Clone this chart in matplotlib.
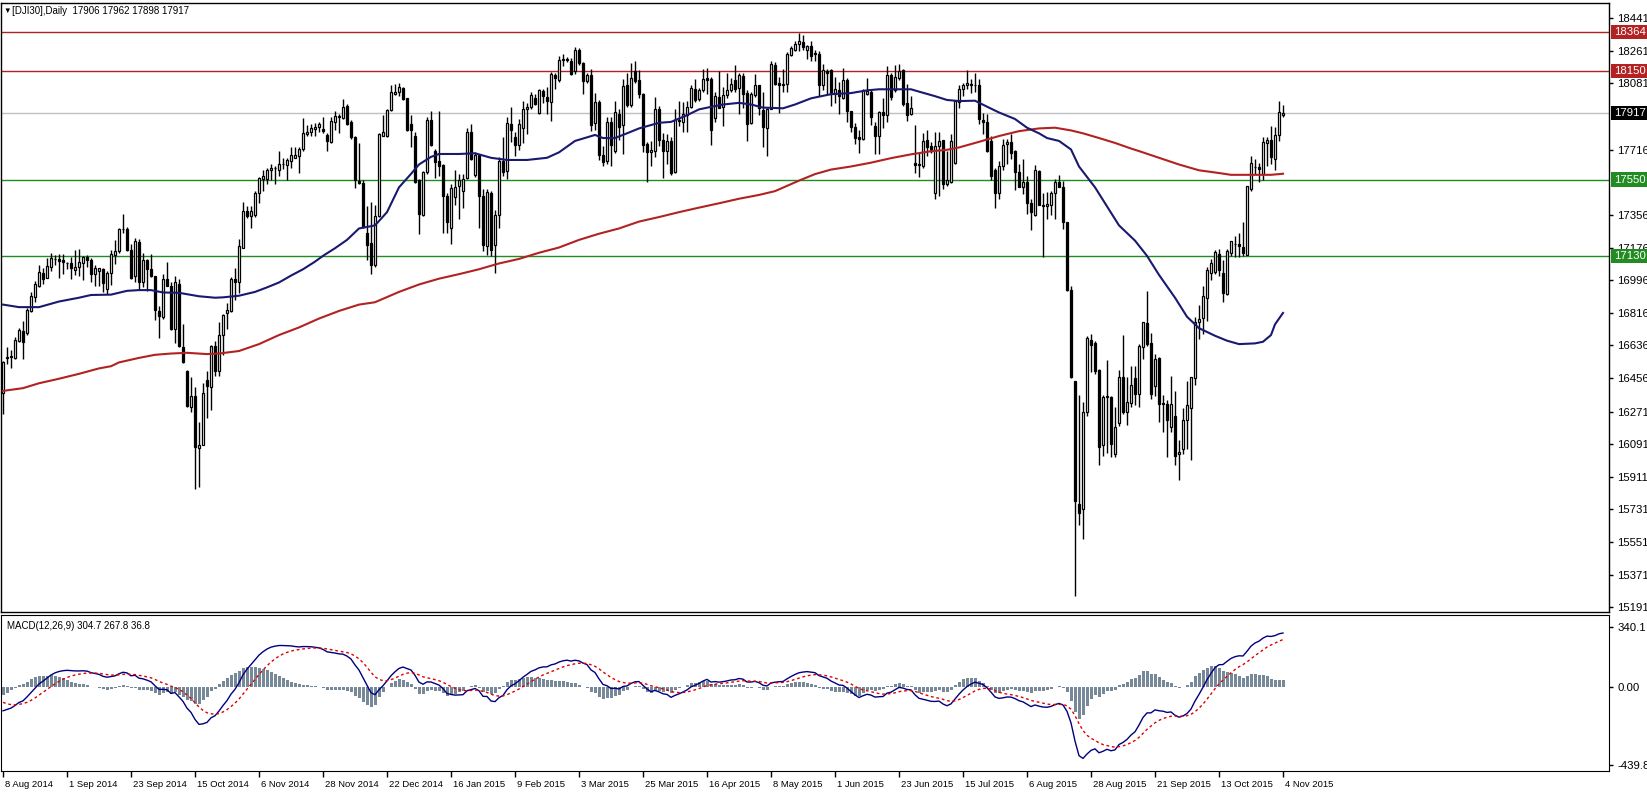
import numpy as np
import matplotlib
matplotlib.use("Agg")
from matplotlib import pyplot as plt
import matplotlib.transforms as mtransforms

plt.rcParams['font.family'] = ['Liberation Sans', 'DejaVu Sans']

# ==== daily bars (bar 0 = 8 Aug 2014, bar 320 = 4 Nov 2015)
opens = [
    16374, 16568, 16572, 16568, 16662, 16715, 16706, 16826, 16905, 16966,
    17034, 17010, 17067, 17115, 17110, 17105, 17088, 17088, 17052, 17071,
    17092, 17126, 17105, 17029, 17046, 17059, 16949, 17035, 17134, 17159,
    17277, 17279, 17161, 17021, 17208, 16983, 17109, 17056, 17017, 16825,
    16794, 17000, 16962, 16727, 16977, 16626, 16496, 16295, 16358, 16070,
    16087, 16446, 16406, 16633, 16496, 16693, 16815, 16826, 17000, 16983,
    17176, 17375, 17350, 17357, 17476, 17554, 17554, 17604, 17615, 17606,
    17636, 17630, 17651, 17672, 17680, 17717, 17801, 17816, 17831, 17839,
    17831, 17795, 17759, 17871, 17894, 17890, 17959, 17869, 17785, 17545,
    17533, 17256, 17203, 17077, 17350, 17793, 17791, 17932, 18022, 18032,
    18057, 17999, 17860, 17791, 17550, 17357, 17592, 17881, 17711, 17655,
    17629, 17461, 17281, 17455, 17518, 17487, 17560, 17812, 17575, 17686,
    17461, 17182, 17476, 17189, 17355, 17655, 17596, 17860, 17787, 17743,
    17833, 17938, 17952, 18000, 17917, 18041, 18007, 17980, 18127, 18100,
    18213, 18217, 18207, 18148, 18267, 18194, 18095, 18127, 17864, 17980,
    17684, 17655, 17869, 17707, 17911, 17854, 18074, 17965, 18148, 18099,
    18022, 17749, 17705, 17711, 17938, 17770, 17707, 17764, 17592, 17879,
    17869, 17906, 17952, 18053, 17994, 18043, 18112, 18106, 17890, 18007,
    17952, 18015, 18047, 18102, 18057, 18123, 18026, 17864, 18015, 18070,
    17932, 17837, 17938, 18183, 18085, 18080, 18078, 18238, 18267, 18301,
    18309, 18267, 18288, 18248, 18242, 18074, 18148, 18158, 18022, 18043,
    18001, 18099, 17927, 17843, 17785, 17776, 18022, 18036, 17848, 17791,
    17921, 17906, 18127, 18043, 18112, 18158, 17973, 17913, 17644, 17630,
    17623, 17770, 17738, 17476, 17738, 17770, 17529, 17539, 17644, 17980,
    18049, 18070, 18078, 18072, 18070, 17881, 17869, 17764, 17602, 17476,
    17627, 17749, 17759, 17707, 17592, 17508, 17539, 17424, 17357, 17596,
    17413, 17403, 17413, 17476, 17539, 17512, 17319, 16942, 16437, 15762,
    15734, 16270, 16664, 16651, 16500, 16085, 16349, 16353, 16039, 16207,
    16462, 16270, 16316, 16454, 16370, 16626, 16758, 16651, 16412, 16567,
    16316, 16311, 16185, 16248, 16038, 16064, 16223, 16290, 16458, 16763,
    16785, 16899, 17036, 17042, 17140, 17036, 16920, 17147, 17195, 17197,
    17180, 17136, 17497, 17619, 17619, 17581, 17755, 17770, 17665, 17797,
    17906,
]
highs = [
    16550, 16626, 16610, 16680, 16733, 16773, 16840, 16931, 16993, 17077,
    17063, 17120, 17147, 17136, 17140, 17142, 17098, 17126, 17161, 17166,
    17130, 17134, 17120, 17077, 17063, 17063, 17046, 17163, 17218, 17281,
    17361, 17287, 17193, 17229, 17225, 17147, 17110, 17140, 17020, 16853,
    17029, 17098, 16987, 17021, 17004, 16756, 16500, 16462, 16406, 16211,
    16427, 16496, 16637, 16658, 16763, 16811, 16868, 17014, 17063, 17224,
    17428, 17407, 17407, 17487, 17566, 17602, 17617, 17634, 17623, 17707,
    17672, 17672, 17733, 17728, 17728, 17890, 17854, 17860, 17864, 17869,
    17894, 17806, 17896, 17927, 17911, 17994, 17969, 17881, 17791, 17755,
    17550, 17403, 17428, 17413, 17806, 17906, 17938, 18070, 18078, 18083,
    18062, 18001, 17906, 17812, 17552, 17596, 17896, 17927, 17722, 17927,
    17638, 17476, 17529, 17602, 17581, 17581, 17833, 17860, 17701, 17692,
    17497, 17497, 17487, 17382, 17676, 17785, 17896, 17952, 17812, 17885,
    17986, 17973, 18036, 18022, 18053, 18049, 18064, 18146, 18141, 18232,
    18242, 18225, 18221, 18284, 18274, 18200, 18137, 18162, 18028, 17990,
    17738, 17896, 17896, 17986, 17938, 18106, 18137, 18196, 18204, 18158,
    18028, 17759, 17764, 18007, 17959, 17806, 17801, 17785, 17938, 17986,
    17980, 17986, 18074, 18106, 18057, 18162, 18169, 18116, 18032, 18148,
    18064, 18137, 18112, 18183, 18137, 18137, 18043, 18032, 18133, 18070,
    18032, 17948, 18206, 18200, 18116, 18162, 18253, 18288, 18316, 18357,
    18347, 18295, 18315, 18263, 18259, 18190, 18162, 18162, 18116, 18091,
    18169, 18112, 17931, 17864, 17822, 18049, 18112, 18053, 17869, 17927,
    18001, 18179, 18137, 18183, 18190, 18162, 18078, 18011, 17850, 17696,
    17806, 17822, 17759, 17812, 17816, 17770, 17707, 17801, 17986, 18074,
    18085, 18158, 18106, 18137, 18106, 17917, 17910, 17791, 17613, 17655,
    17776, 17776, 17801, 17713, 17634, 17665, 17571, 17445, 17630, 17602,
    17476, 17482, 17487, 17554, 17575, 17545, 17319, 16966, 16437, 16364,
    16322, 16689, 16700, 16658, 16504, 16364, 16553, 16357, 16295, 16500,
    16693, 16462, 16525, 16525, 16643, 16763, 16937, 16706, 16588, 16574,
    16364, 16337, 16469, 16385, 16112, 16290, 16442, 16462, 16790, 16861,
    16962, 17071, 17113, 17161, 17168, 17109, 17168, 17214, 17239, 17256,
    17319, 17518, 17680, 17665, 17644, 17785, 17785, 17848, 17843, 17984,
    17962,
]
lows = [
    16260, 16532, 16511, 16560, 16655, 16563, 16693, 16819, 16874, 16958,
    16977, 17006, 17046, 17082, 17010, 17030, 17056, 17000, 17025, 17021,
    16998, 17071, 16983, 16966, 16966, 16930, 16920, 16968, 17084, 17147,
    17256, 17155, 17005, 16983, 16941, 16956, 16935, 17012, 16777, 16679,
    16784, 16962, 16721, 16647, 16626, 16540, 16295, 16270, 15846, 15854,
    16085, 16238, 16280, 16469, 16469, 16584, 16727, 16819, 16889, 16924,
    17172, 17340, 17281, 17344, 17420, 17487, 17529, 17550, 17525, 17571,
    17609, 17550, 17617, 17670, 17587, 17707, 17791, 17791, 17791, 17812,
    17806, 17707, 17755, 17822, 17806, 17885, 17854, 17776, 17503, 17527,
    17281, 17109, 17029, 17071, 17344, 17791, 17785, 17927, 18015, 18011,
    17990, 17818, 17728, 17533, 17250, 17350, 17581, 17738, 17560, 17571,
    17256, 17256, 17193, 17413, 17336, 17392, 17554, 17659, 17567, 17281,
    17155, 17134, 17130, 17035, 17281, 17571, 17554, 17759, 17680, 17713,
    17755, 17801, 17938, 17965, 17915, 17973, 17915, 17873, 18053, 18091,
    18179, 18200, 18127, 18133, 18183, 18022, 18085, 17818, 17822, 17659,
    17623, 17638, 17623, 17696, 17770, 17692, 17952, 17952, 18085, 18001,
    17701, 17539, 17623, 17676, 17738, 17560, 17638, 17575, 17587, 17848,
    17812, 17812, 17944, 17980, 17986, 18032, 18022, 17743, 17869, 17944,
    17848, 18001, 18032, 18032, 17911, 17944, 17764, 17860, 18007, 17906,
    17728, 17682, 17938, 18070, 17917, 18032, 18032, 18232, 18259, 18259,
    18267, 18217, 18204, 18204, 18011, 18043, 18022, 17959, 17973, 17911,
    17994, 17869, 17812, 17749, 17696, 17770, 18015, 17854, 17692, 17692,
    17837, 17869, 17990, 18036, 18099, 17959, 17875, 17906, 17587, 17567,
    17613, 17680, 17696, 17441, 17462, 17497, 17518, 17533, 17638, 17948,
    18011, 18053, 18028, 18032, 17860, 17801, 17701, 17550, 17392, 17445,
    17602, 17634, 17665, 17491, 17508, 17470, 17361, 17273, 17350, 17409,
    17126, 17336, 17357, 17336, 17508, 17277, 16937, 16454, 15252, 15644,
    15567, 16249, 16490, 16479, 15976, 16028, 16043, 16022, 16022, 16190,
    16259, 16196, 16295, 16307, 16295, 16563, 16630, 16341, 16358, 16211,
    16160, 16022, 16160, 15976, 15892, 16039, 16064, 16001, 16420, 16672,
    16700, 16773, 16994, 17029, 17021, 16878, 16916, 17130, 17126, 17126,
    17130, 17134, 17487, 17581, 17539, 17550, 17623, 17638, 17602, 17764,
    17898,
]
closes = [
    16546, 16572, 16575, 16664, 16721, 16656, 16832, 16910, 16977, 17040,
    17000, 17073, 17119, 17113, 17103, 17094, 17092, 17063, 17071, 17098,
    17126, 17105, 17029, 17063, 17061, 16979, 17035, 17142, 17159, 17279,
    17279, 17161, 17008, 17212, 16983, 17109, 17056, 17021, 16832, 16798,
    17004, 16966, 16727, 16987, 16630, 16542, 16301, 16358, 16076, 16087,
    16374, 16412, 16633, 16496, 16693, 16803, 16830, 17004, 16983, 17182,
    17375, 17350, 17375, 17476, 17562, 17571, 17602, 17617, 17613, 17638,
    17634, 17659, 17686, 17684, 17722, 17806, 17816, 17837, 17843, 17858,
    17820, 17764, 17875, 17902, 17902, 17952, 17860, 17785, 17550, 17533,
    17287, 17189, 17077, 17350, 17801, 17812, 17932, 18032, 18036, 18064,
    17995, 17822, 17822, 17539, 17361, 17592, 17881, 17743, 17650, 17623,
    17461, 17315, 17503, 17512, 17550, 17554, 17812, 17665, 17686, 17461,
    17189, 17482, 17161, 17355, 17655, 17592, 17864, 17822, 17743, 17860,
    17938, 17952, 18020, 17969, 18047, 18011, 17986, 18133, 18110, 18211,
    18215, 18209, 18133, 18263, 18194, 18095, 18127, 17854, 17980, 17684,
    17648, 17869, 17743, 17921, 17843, 18068, 17965, 18112, 18095, 18022,
    17743, 17701, 17713, 17938, 17770, 17711, 17764, 17587, 17881, 17875,
    17911, 17952, 18057, 17990, 18047, 18106, 18102, 17822, 18011, 17948,
    18018, 18047, 18078, 18049, 18127, 18022, 17860, 18022, 18074, 17948,
    17843, 17938, 18190, 18078, 18074, 18074, 18246, 18274, 18299, 18316,
    18280, 18288, 18232, 18242, 18074, 18154, 18137, 18022, 18049, 18011,
    18099, 17927, 17843, 17780, 17776, 18043, 18039, 17896, 17791, 17921,
    17906, 18127, 18007, 18116, 18148, 17969, 17906, 17948, 17630, 17638,
    17764, 17728, 17707, 17738, 17764, 17525, 17546, 17764, 17986, 18053,
    18074, 18085, 18070, 18070, 17885, 17869, 17707, 17571, 17476, 17627,
    17743, 17759, 17696, 17592, 17512, 17539, 17424, 17371, 17602, 17413,
    17403, 17417, 17476, 17539, 17512, 17319, 16942, 16460, 15776, 15713,
    16270, 16679, 16637, 16496, 16076, 16353, 16357, 16091, 16185, 16462,
    16270, 16322, 16420, 16370, 16630, 16763, 16643, 16370, 16559, 16311,
    16311, 16227, 16311, 16028, 16049, 16223, 16307, 16462, 16763, 16780,
    16910, 17050, 17088, 17151, 17050, 16925, 17157, 17210, 17193, 17182,
    17147, 17514, 17644, 17619, 17609, 17759, 17770, 17676, 17797, 17921,
    17917,
]

ma50_bars = [0, 4, 9, 14, 19, 22, 27, 31, 34, 37, 40, 44, 49, 53, 55, 59, 63, 66, 69, 72,
             75, 78, 80, 83, 86, 89, 93, 96, 99, 102, 104, 107, 109, 114, 118, 122, 126, 131, 136, 139,
             143, 148, 150, 153, 156, 159, 164, 167, 171, 174, 177, 180, 184, 187, 190, 195, 198, 202, 207, 212,
             216, 219, 227, 229, 233, 236, 239, 243, 246, 249, 253, 256, 259, 261, 264, 267, 269, 273, 276, 279,
             283, 286, 289, 293, 296, 299, 303, 306, 309, 313, 315, 317, 318, 320]
ma50_vals = [16861, 16847, 16847, 16878, 16899, 16914, 16916, 16937, 16941, 16941,
             16928, 16926, 16907, 16899, 16901, 16910, 16931, 16956, 16983, 17021,
             17056, 17098, 17130, 17172, 17218, 17281, 17298, 17371, 17508, 17582,
             17634, 17676, 17692, 17692, 17696, 17671, 17659, 17659, 17671, 17701,
             17764, 17797, 17780, 17780, 17806, 17833, 17864, 17869, 17906, 17938,
             17952, 17965, 17974, 17965, 17948, 17944, 17965, 17999, 18022, 18028,
             18043, 18049, 18049, 18036, 18011, 17990, 17984, 17986, 17953, 17921,
             17885, 17837, 17806, 17780, 17764, 17717, 17623, 17508, 17403, 17298,
             17214, 17130, 17025, 16899, 16794, 16731, 16689, 16662, 16643, 16647,
             16656, 16693, 16752, 16815]
ma200_bars = [0, 5, 9, 14, 19, 24, 27, 29, 34, 38, 42, 46, 51, 54, 59, 64, 69, 74, 79, 84,
              89, 93, 99, 104, 109, 114, 119, 124, 129, 134, 139, 144, 149, 154, 159, 164, 169, 174, 179, 184,
              189, 193, 196, 199, 203, 207, 212, 217, 222, 227, 232, 236, 239, 244, 249, 254, 259, 263, 267, 270,
              274, 278, 282, 284, 289, 294, 299, 304, 307, 312, 317, 320]
ma200_vals = [16385, 16400, 16427, 16452, 16479, 16509, 16521, 16542, 16567, 16584,
              16591, 16595, 16588, 16591, 16605, 16643, 16693, 16735, 16784, 16826,
              16861, 16874, 16931, 16972, 17004, 17029, 17056, 17088, 17113, 17147,
              17176, 17218, 17252, 17281, 17319, 17344, 17371, 17396, 17420, 17445,
              17466, 17487, 17516, 17545, 17581, 17606, 17623, 17644, 17669, 17690,
              17707, 17715, 17728, 17759, 17791, 17818, 17833, 17837, 17822, 17806,
              17780, 17753, 17722, 17708, 17671, 17634, 17602, 17587, 17577, 17577,
              17577, 17583]

red_levels = [18364, 18150]
green_levels = [17550, 17130]
last_price = 17917

price_ticks = [18441, 18261, 18081, 17716, 17356, 17176, 16996, 16816, 16636,
               16456, 16271, 16091, 15911, 15731, 15551, 15371, 15191]
date_labels = ["8 Aug 2014", "1 Sep 2014", "23 Sep 2014", "15 Oct 2014", "6 Nov 2014",
               "28 Nov 2014", "22 Dec 2014", "16 Jan 2015", "9 Feb 2015", "3 Mar 2015",
               "25 Mar 2015", "16 Apr 2015", "8 May 2015", "1 Jun 2015", "23 Jun 2015",
               "15 Jul 2015", "6 Aug 2015", "28 Aug 2015", "21 Sep 2015", "13 Oct 2015",
               "4 Nov 2015"]
macd_ticks = [340.1, 0.0, -439.8]
macd_tick_labels = ["340.1", "0.00", "-439.8"]

# EMA state just before the first bar (estimated from the MACD panel)
ema_fast_start = 16610
ema_slow_start = 16750
signal_start = -75


def ema(values, period, start):
    k = 2.0 / (period + 1)
    out = []
    prev = start
    for v in values:
        prev = prev + k * (v - prev)
        out.append(prev)
    return np.array(out)


o = np.array(opens, dtype=float)
h = np.array(highs, dtype=float)
l = np.array(lows, dtype=float)
c = np.array(closes, dtype=float)
x = np.arange(len(c))

macd = ema(c, 12, ema_fast_start) - ema(c, 26, ema_slow_start)
signal = ema(macd, 9, signal_start)
hist = macd - signal

# ==== figure, pixel based layout
W, H = 1647, 793
fig = plt.figure(figsize=(W / 100, H / 100), dpi=100)


def box(x0, y0, x1, y1):
    return [x0 / W, 1 - y1 / H, (x1 - x0) / W, (y1 - y0) / H]


ax = fig.add_axes(box(1, 3, 1609, 612))
ax2 = fig.add_axes(box(1, 615, 1609, 771))

# price panel
for lev in red_levels:
    ax.axhline(lev, color="#b22222", lw=1, zorder=1)
for lev in green_levels:
    ax.axhline(lev, color="#228b22", lw=1, zorder=1)
ax.axhline(last_price, color="#c0c0c0", lw=1, zorder=1)

up = c >= o
ax.vlines(x, l, h, color="black", lw=1, zorder=3)
ax.bar(x[up], (c - o)[up], bottom=o[up], width=0.6, color="white",
       edgecolor="black", lw=0.9, zorder=4)
ax.bar(x[~up], (o - c)[~up], bottom=c[~up], width=0.6, color="black",
       edgecolor="black", lw=0.9, zorder=4)

ax.plot(ma200_bars, ma200_vals, color="#b22222", lw=1.5, zorder=5)
ax.plot(ma50_bars, ma50_vals, color="#191970", lw=1.5, zorder=5)

ax.set_xlim(-0.5, 401.5)
ax.set_ylim(15165, 18525)
ax.set_xticks([])
ax.yaxis.tick_right()
ax.set_yticks(price_ticks)
ax.set_yticklabels([str(v) for v in price_ticks])
ax.tick_params(axis="y", direction="out", length=3, width=1, labelsize=8.2, pad=3)


def price_tag(value, face):
    ax.annotate(str(value), xy=(1.0, value), xycoords=ax.get_yaxis_transform(),
                xytext=(3.4, 0), textcoords="offset points", ha="left", va="center",
                fontsize=8.2, color="white", zorder=10, annotation_clip=False,
                bbox=dict(boxstyle="square,pad=0.2", fc=face, ec="none"))


for lev in red_levels:
    price_tag(lev, "#b22222")
for lev in green_levels:
    price_tag(lev, "#228b22")
price_tag(last_price, "black")

for sp in ax.spines.values():
    sp.set_linewidth(1)

# MACD panel
ax2.bar(x, hist, width=0.75, color="#778899", zorder=2)
ax2.plot(x, macd, color="#000080", lw=1, zorder=3)
ax2.plot(x, signal, color="#e00000", lw=1, ls=(0, (2, 2)), zorder=3)
ax2.set_xlim(-0.5, 401.5)
ax2.set_ylim(-475, 407)
ax2.yaxis.tick_right()
ax2.set_yticks(macd_ticks)
ax2.set_yticklabels(macd_tick_labels)
ax2.tick_params(axis="y", direction="out", length=3, width=1, labelsize=8.2, pad=3)
ax2.set_xticks(np.arange(0, 16 * len(date_labels), 16))
ax2.set_xticklabels(date_labels)
ax2.tick_params(axis="x", direction="out", length=4, width=1, labelsize=6.8, pad=2.5)
offset = mtransforms.ScaledTranslation(2 / 100, 0, fig.dpi_scale_trans)
for lab in ax2.get_xticklabels():
    lab.set_horizontalalignment("left")
    lab.set_transform(lab.get_transform() + offset)
ax2.text(6 / 1608, 0.93, "MACD(12,26,9) 304.7 267.8 36.8", transform=ax2.transAxes,
         fontsize=7, va="center", ha="left")

# header
fig.text(3 / W, 1 - 11 / H, "\u25bc", fontsize=5.5, va="center", ha="left")
fig.text(12 / W, 1 - 11 / H, "[DJI30],Daily  17906 17962 17898 17917", fontsize=7.0,
         va="center", ha="left")

fig.savefig("out.png", dpi=100)
